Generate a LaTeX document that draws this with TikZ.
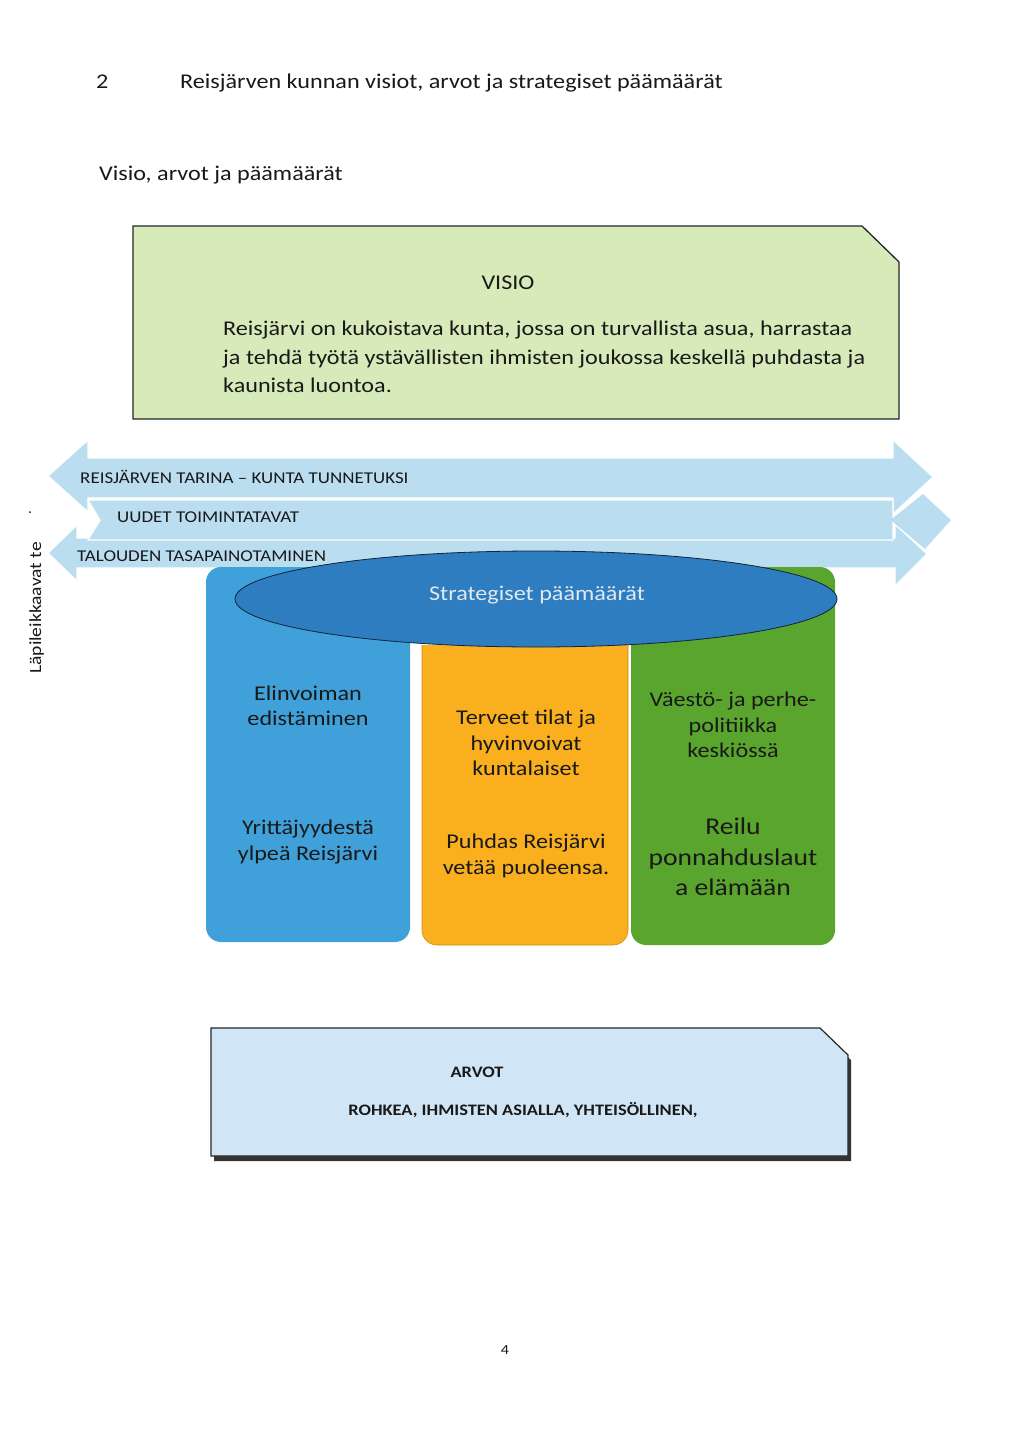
\documentclass[tikz,border=0pt]{standalone}
\usepackage{fontspec}
\setmainfont{Carlito}[FakeStretch=1.15]
\definecolor{visiogreen}{RGB}{215,235,186}
\definecolor{arrowblue}{RGB}{186,222,240}
\definecolor{arvotblue}{RGB}{208,229,245}
\definecolor{colblue}{RGB}{64,160,218}
\definecolor{colorange}{RGB}{250,176,30}
\definecolor{colgreen}{RGB}{90,165,45}
\definecolor{ellblue}{RGB}{46,125,192}
\definecolor{darktext}{RGB}{25,25,25}
\definecolor{strattext}{RGB}{225,232,240}
\tikzset{
  txt/.style={inner sep=0pt, text=darktext},
  headtxt/.style={txt, font=\fontsize{21}{26}\selectfont},
  visiotxt/.style={txt, font=\fontsize{21}{28.5}\selectfont},
  arrowtxt/.style={txt, font=\fontsize{16.5}{19}\selectfont},
  coltxt/.style={txt, align=center, font=\fontsize{21}{25.5}\selectfont},
  bigcoltxt/.style={txt, align=center, font=\fontsize{24}{30.5}\selectfont},
  arvottxt/.style={txt, font=\bfseries\fontsize{16}{18}\selectfont},
  arrowshape/.style={fill=arrowblue, draw=white, line width=1.2pt, line join=miter},
}
\begin{document}
\begin{tikzpicture}[x=1pt,y=-1pt]
\useasboundingbox (0,0) rectangle (1024,1439);
\fill[white] (0,0) rectangle (1024,1439);

% headings
\node[headtxt, anchor=base west] (num) at (96,89) {2};
\node[headtxt, anchor=base west] (title) at (180,89) {Reisjärven kunnan visiot, arvot ja strategiset päämäärät};
\node[headtxt, anchor=base west] (sub) at (99,181) {Visio, arvot ja päämäärät};

% VISIO box
\draw[fill=visiogreen, draw=black!85, line width=1.3pt]
  (133,226) -- (862,226) -- (899,262) -- (899,419) -- (133,419) -- cycle;
\node[visiotxt, anchor=base] (visio) at (508,289) {VISIO};
\node[visiotxt, anchor=base west] (v1) at (223,335) {Reisjärvi on kukoistava kunta, jossa on turvallista asua, harrastaa};
\node[visiotxt, anchor=base west] (v2) at (223,364) {ja tehdä työtä ystävällisten ihmisten joukossa keskellä puhdasta ja};
\node[visiotxt, anchor=base west] (v3) at (223,392) {kaunista luontoa.};

% stacked double arrows
\path[arrowshape] (48,476) -- (88,440) -- (88,458) -- (893,458) -- (893,440)
  -- (933,477) -- (893,514) -- (893,498) -- (88,498) -- (88,512) -- cycle;
\path[arrowshape] (48,553) -- (77,525) -- (77,538) -- (895,538) -- (895,524)
  -- (927,554) -- (895,586) -- (895,568) -- (77,568) -- (77,581) -- cycle;
\path[arrowshape] (88,500) -- (893,500) -- (893,517) -- (923,493) -- (952,520)
  -- (925,550) -- (893,523) -- (893,540) -- (88,540) -- (100,520) -- cycle;
\node[arrowtxt, anchor=base west] (a1) at (80,483) {REISJÄRVEN TARINA – KUNTA TUNNETUKSI};
\node[arrowtxt, anchor=base west] (a2) at (117,522) {UUDET TOIMINTATAVAT};
\node[arrowtxt, anchor=base west] (a3) at (77,561) {TALOUDEN TASAPAINOTAMINEN};

% side text
\node[txt, font=\fontsize{17}{20}\selectfont, rotate=90, anchor=base] (side) at (41,608) {Läpileikkaavat te};
\fill[darktext] (30,512) circle (1pt);

% columns
\fill[colblue, rounded corners=15pt] (206,567) rectangle (410,942);
\begin{scope}
  \clip (400,645) rectangle (650,960);
  \draw[fill=colorange, draw=colorange!80!black, line width=0.6pt, rounded corners=15pt] (422,600) rectangle (628,945);
\end{scope}
\fill[colgreen, rounded corners=15pt] (631,567) rectangle (835,945);

% ellipse
\draw[fill=ellblue, draw=black!70!ellblue, line width=0.8pt] (536,599) ellipse [x radius=301, y radius=48];
\node[txt, text=strattext, font=\fontsize{21}{26}\selectfont, anchor=base] (strat) at (537,600) {Strategiset päämäärät};

% column texts
\node[coltxt] (c1a) at (308,706) {Elinvoiman\\edistäminen};
\node[coltxt] (c1b) at (308,842) {Yrittäjyydestä\\ylpeä Reisjärvi};
\node[coltxt] (c2a) at (526,743) {Terveet tilat ja\\hyvinvoivat\\kuntalaiset};
\node[coltxt] (c2b) at (526,856) {Puhdas Reisjärvi\\vetää puoleensa.};
\node[coltxt] (c3a) at (733,725) {Väestö- ja perhe-\\politiikka\\keskiössä};
\node[bigcoltxt] (c3b) at (733,857) {Reilu\\ponnahduslaut\\a elämään};

% ARVOT box
\fill[black!80] (214,1034) -- (822,1034) -- (851,1060) -- (851,1161) -- (214,1161) -- cycle;
\draw[fill=arvotblue, draw=black!85, line width=1.2pt]
  (211,1028) -- (820,1028) -- (848,1055) -- (848,1156) -- (211,1156) -- cycle;
\node[arvottxt, anchor=base] (arvot) at (477,1077) {ARVOT};
\node[arvottxt, anchor=base] (vals) at (523,1115) {ROHKEA, IHMISTEN ASIALLA, YHTEISÖLLINEN,};

% page number
\node[txt, font=\fontsize{14}{16}\selectfont, anchor=base] (page) at (505,1354) {4};
\end{tikzpicture}
\end{document}
